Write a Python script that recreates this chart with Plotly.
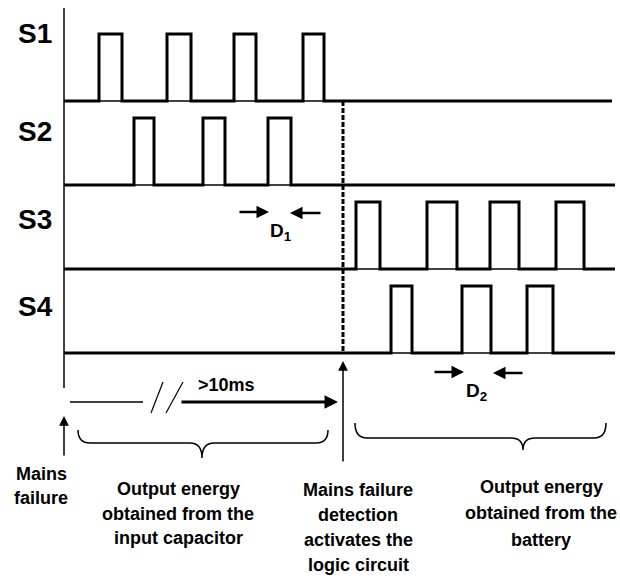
import plotly.graph_objects as go

# ---------------- data (time in arbitrary units, t=0 = mains failure) ----------------
channels = ["S1", "S2", "S3", "S4"]
S1_pulses = [(35, 58), (103, 127), (170, 192), (239, 260)]
S2_pulses = [(70, 90), (139, 161), (204, 227)]
S3_pulses = [(292, 316), (363, 393), (426, 455), (492, 520)]
S4_pulses = [(327, 348), (398, 427), (463, 489)]
pulses = [S1_pulses, S2_pulses, S3_pulses, S4_pulses]
trace_end = [548, 551, 551, 551]
t_detect = 279

pulse_height = 67
lane_top = 478
lane_step = 84
label_offsets = [68, 54, 50, 47]

# timeline annotation values
timeline_label = ">10ms"
D_labels = ["D<sub>1</sub>", "D<sub>2</sub>"]

left_label = ["Mains", "failure"]
capacitor_label = ["Output energy", "obtained from the", "input capacitor"]
detect_label = ["Mains failure", "detection", "activates the", "logic circuit"]
battery_label = ["Output energy", "obtained from the", "battery"]

FONT = "Liberation Sans, Arial, sans-serif"

fig = go.Figure()
annotations = []
shapes = []


def base(k):
    return lane_top - lane_step * k


# waveforms
for k, (name, pl) in enumerate(zip(channels, pulses)):
    b = base(k)
    h = b + pulse_height
    # thin full baseline (visible under pulses)
    fig.add_trace(go.Scatter(x=[0, trace_end[k]], y=[b, b], mode="lines",
                             line=dict(color="black", width=1.5), hoverinfo="skip"))
    xs, ys = [0], [b]
    for s, e in pl:
        xs += [s, s, e, e]
        ys += [b, h, h, b]
    xs.append(trace_end[k])
    ys.append(b)
    fig.add_trace(go.Scatter(x=xs, y=ys, mode="lines",
                             line=dict(color="black", width=3), hoverinfo="skip"))
    annotations.append(dict(x=-29, y=b + label_offsets[k],
                            text="<b>%s</b>" % name, showarrow=False,
                            font=dict(family=FONT, size=28, color="black"),
                            xanchor="center", yanchor="middle"))

# vertical axis
shapes.append(dict(type="line", x0=0, x1=0, y0=191, y1=571, xref="x", yref="y",
                   line=dict(color="black", width=1.5)))
# dashed detection line
shapes.append(dict(type="line", x0=t_detect, x1=t_detect, y0=base(0), y1=base(3),
                   xref="x", yref="y", line=dict(color="black", width=3, dash="5px,2px")))


def arrow(x0, y0, x1, y1, w=2.5, head=2, size=1.0):
    annotations.append(dict(x=x1, y=y1, ax=x0, ay=y0, xref="x", yref="y",
                            axref="x", ayref="y", text="", showarrow=True,
                            arrowhead=head, arrowsize=size, arrowwidth=w,
                            arrowcolor="black", standoff=0, startstandoff=0))


# D1 / D2 arrows
arrow(174, 367, 205, 367)
arrow(258, 366, 226, 366)
arrow(369, 207, 400, 207)
arrow(460, 206, 429, 206)
annotations.append(dict(x=217, y=347, text="<b>%s</b>" % D_labels[0], showarrow=False,
                        font=dict(family=FONT, size=19, color="black")))
annotations.append(dict(x=412, y=187, text="<b>%s</b>" % D_labels[1], showarrow=False,
                        font=dict(family=FONT, size=19, color="black")))

# mains failure arrow and detection arrow
arrow(0, 122, 0, 163, w=1.5, head=2, size=1.3)
arrow(t_detect, 116, t_detect, 218, w=1.5, head=2, size=1.3)

# timeline
shapes.append(dict(type="line", x0=6, x1=79, y0=177, y1=177, xref="x", yref="y",
                   line=dict(color="black", width=1.5)))
shapes.append(dict(type="line", x0=87, x1=99, y0=166, y1=197, xref="x", yref="y",
                   line=dict(color="black", width=1.2)))
shapes.append(dict(type="line", x0=102, x1=119, y0=166, y1=197, xref="x", yref="y",
                   line=dict(color="black", width=1.2)))
arrow(116, 177, 274, 177, w=3, head=2, size=0.9)
annotations.append(dict(x=162, y=194, text="<b>%s</b>" % timeline_label, showarrow=False,
                        font=dict(family=FONT, size=18, color="black")))


# braces
def brace(x0, x1, xt, y_end, y_line, y_tip):
    r = 12
    p = (f"M {x0},{y_end} Q {x0},{y_line} {x0 + r},{y_line} "
         f"L {xt - r},{y_line} Q {xt},{y_line} {xt},{y_tip} "
         f"Q {xt},{y_line} {xt + r},{y_line} "
         f"L {x1 - r},{y_line} Q {x1},{y_line} {x1},{y_end}")
    shapes.append(dict(type="path", path=p, xref="x", yref="y",
                       line=dict(color="black", width=1.5)))


brace(14, 264, 138, 149, 136, 121)
brace(291, 542, 459, 156, 141, 129)


def text_block(lines, xc, ys, size=18):
    for line, y in zip(lines, ys):
        annotations.append(dict(x=xc, y=y, text="<b>%s</b>" % line, showarrow=False,
                                font=dict(family=FONT, size=size, color="black"),
                                xanchor="center", yanchor="middle"))


text_block(left_label, -23, [105, 81])
text_block(capacitor_label, 114, [90, 65, 41])
text_block(detect_label, 294, [89, 64, 39, 14])
text_block(battery_label, 477, [92, 66, 39])

fig.update_layout(
    width=620, height=579,
    margin=dict(l=0, r=0, t=0, b=0),
    paper_bgcolor="white", plot_bgcolor="white",
    showlegend=False,
    xaxis=dict(range=[-64, 556], visible=False, fixedrange=True),
    yaxis=dict(range=[0, 579], visible=False, fixedrange=True),
    annotations=annotations,
    shapes=shapes,
)

fig.write_html("out.html", config={"displayModeBar": False},
               post_script="document.body.style.margin='0';document.body.style.overflow='hidden';")
